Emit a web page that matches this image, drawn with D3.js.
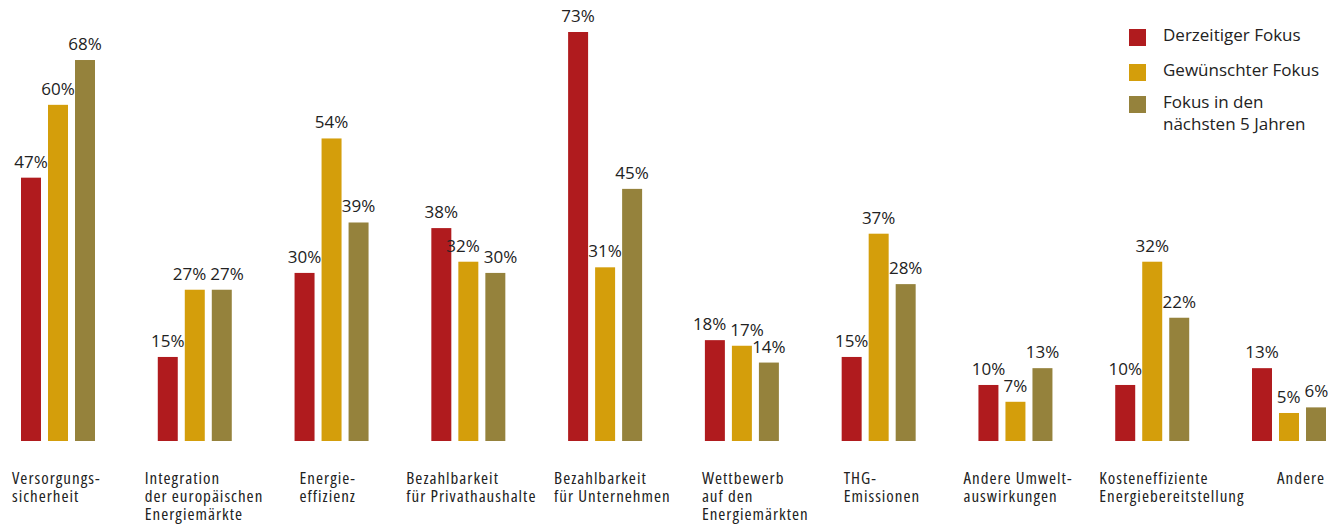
<!DOCTYPE html>
<html>
<head>
<meta charset="utf-8">
<script src="https://cdn.jsdelivr.net/npm/d3@7"></script>
<style>
  body { margin: 0; background: #fff; }
  text { font-family: "Open Sans", "Noto Sans", sans-serif; fill: #222; }
  text.cat { font-stretch: 87.5%; letter-spacing: 1px; }
</style>
</head>
<body>
<div id="chart"></div>
<script>
var svgWidth = 1343;
var svgHeight = 526;

// categories, each one split in lines as in the picture
var categories = [
  ["Versorgungs-", "sicherheit"],
  ["Integration", "der europäischen", "Energiemärkte"],
  ["Energie-", "effizienz"],
  ["Bezahlbarkeit", "für Privathaushalte"],
  ["Bezahlbarkeit", "für Unternehmen"],
  ["Wettbewerb", "auf den", "Energiemärkten"],
  ["THG-", "Emissionen"],
  ["Andere Umwelt-", "auswirkungen"],
  ["Kosteneffiziente", "Energiebereitstellung"],
  ["Andere"]
];

var seriesNames = ["Derzeitiger Fokus", "Gewünschter Fokus", "Fokus in den nächsten 5 Jahren"];
var legendLines = [["Derzeitiger Fokus"], ["Gewünschter Fokus"], ["Fokus in den", "nächsten 5 Jahren"]];

var derzeitig = [47, 15, 30, 38, 73, 18, 15, 10, 10, 13];
var gewuenscht = [60, 27, 54, 32, 31, 17, 37, 7, 32, 5];
var naechste5 = [68, 27, 39, 30, 45, 14, 28, 13, 22, 6];

var colors = ["#b01b1e", "#d49e0b", "#95823c"];

// label shift from the group's left edge (labels are not centred in the original)
var labelDx = [-9, -13, 5, -25, -14, -3, 2, -15, -16, 25];

var seriesValues = [derzeitig, gewuenscht, naechste5];

var svg = d3.select("#chart")
  .append("svg")
  .attr("width", svgWidth)
  .attr("height", svgHeight);

var baseY = 441;

var x0 = d3.scaleBand()
  .domain(d3.range(categories.length))
  .range([21, 1326])
  .paddingInner(0.459)
  .paddingOuter(0);

var x1 = d3.scaleBand()
  .domain(d3.range(seriesNames.length))
  .range([0, x0.bandwidth()])
  .paddingInner(0.26)
  .paddingOuter(0);

var y = d3.scaleLinear()
  .domain([0, 73])
  .range([baseY, 32]);

var groups = svg.selectAll("g.group")
  .data(categories)
  .enter()
  .append("g")
  .attr("class", "group")
  .attr("transform", (d, i) => `translate(${x0(i)},0)`);

groups.each(function(cat, i) {
  var g = d3.select(this);
  var vals = seriesValues.map(s => s[i]);

  g.selectAll("rect")
    .data(vals)
    .enter()
    .append("rect")
    .attr("x", (d, j) => x1(j))
    .attr("y", d => y(d))
    .attr("width", x1.bandwidth())
    .attr("height", d => baseY - y(d))
    .attr("fill", (d, j) => colors[j]);

  var vl = g.selectAll("text.val")
    .data(vals)
    .enter()
    .append("text")
    .attr("class", "val")
    .attr("x", (d, j) => x1(j) + x1.bandwidth() / 2)
    .attr("y", d => y(d) - 10)
    .attr("text-anchor", "middle")
    .style("font-size", "17px")
    .text(d => d + "%");

  // push neighbouring value labels apart when they sit at about the same height
  var nodes = vl.nodes();
  for (var j = 0; j < nodes.length - 1; j++) {
    var a = nodes[j], b = nodes[j + 1];
    if (Math.abs(+a.getAttribute("y") - +b.getAttribute("y")) >= 14) continue;
    var ax = +a.getAttribute("x"), bx = +b.getAttribute("x");
    var need = (a.getComputedTextLength() + b.getComputedTextLength()) / 2 + 4;
    var over = need - (bx - ax);
    if (over > 0) {
      a.setAttribute("x", ax - over / 2);
      b.setAttribute("x", bx + over / 2);
    }
  }

  var lab = g.append("text")
    .attr("class", "cat")
    .style("font-size", "17px");
  lab.selectAll("tspan")
    .data(cat)
    .enter()
    .append("tspan")
    .attr("x", labelDx[i])
    .attr("y", (d, k) => 484 + k * 18)
    .text(d => d);
});

// legend
var legend = svg.append("g")
  .attr("transform", "translate(1129,0)");

var legendY = [29, 64, 96];

legendLines.forEach(function(lines, j) {
  legend.append("rect")
    .attr("x", 0)
    .attr("y", legendY[j])
    .attr("width", 17)
    .attr("height", 17)
    .attr("fill", colors[j]);
  var t = legend.append("text").style("font-size", "17px");
  t.selectAll("tspan")
    .data(lines)
    .enter()
    .append("tspan")
    .attr("x", 34)
    .attr("y", (d, k) => legendY[j] + 12 + k * 22)
    .text(d => d);
});
</script>
</body>
</html>
